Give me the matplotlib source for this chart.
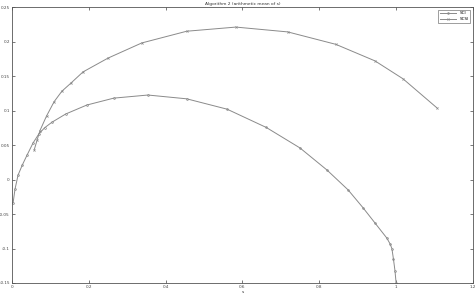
import matplotlib.pyplot as plt
import numpy as np

# lower curve (SCI)
sci_x = [0.003, 0.008, 0.016, 0.027, 0.039, 0.055, 0.07, 0.085, 0.104, 0.14, 0.195, 0.265, 0.354,
         0.455, 0.56, 0.662, 0.75, 0.82, 0.875, 0.914, 0.945, 0.976, 0.984, 0.989, 0.993, 0.997, 1.0]
sci_y = [-0.034, -0.014, 0.0065, 0.021, 0.035, 0.053, 0.066, 0.075, 0.083, 0.095, 0.108, 0.118,
         0.1225, 0.117, 0.102, 0.0755, 0.0457, 0.0138, -0.015, -0.041, -0.063, -0.085, -0.093,
         -0.1, -0.115, -0.132, -0.15]

# upper curve (SCSI)
scsi_x = [0.058, 0.066, 0.073, 0.09, 0.11, 0.13, 0.154, 0.185, 0.25, 0.338, 0.455, 0.583,
          0.718, 0.843, 0.945, 1.018, 1.106]
scsi_y = [0.043, 0.058, 0.071, 0.092, 0.113, 0.128, 0.14, 0.156, 0.176, 0.198, 0.215, 0.221,
          0.214, 0.196, 0.172, 0.146, 0.104]

xticks = [0, 0.2, 0.4, 0.6, 0.8, 1, 1.2]
xtick_labels = ["0", "0.2", "0.4", "0.6", "0.8", "1", "1.2"]
yticks = [-0.15, -0.1, -0.05, 0, 0.05, 0.1, 0.15, 0.2, 0.25]
ytick_labels = ["-0.15", "-0.1", "-0.05", "0", "0.05", "0.1", "0.15", "0.2", "0.25"]

fig = plt.figure(figsize=(4.77, 2.95), dpi=100)
ax = fig.add_axes([0.025, 0.0407, 0.9665, 0.9353])

gray = "#8a8a8a"
ax.plot(sci_x, sci_y, color=gray, linewidth=0.7, marker="o", markersize=1.3,
        markerfacecolor="none", markeredgewidth=0.5, label="SCI")
ax.plot(scsi_x, scsi_y, color=gray, linewidth=0.7, marker="x", markersize=1.5,
        markeredgewidth=0.5, label="SCSI")

ax.set_xlim(0, 1.2)
ax.set_ylim(-0.15, 0.25)
ax.set_xticks(xticks)
ax.set_xticklabels(xtick_labels)
ax.set_yticks(yticks)
ax.set_yticklabels(ytick_labels)
ax.tick_params(direction="in", length=2.5, width=0.5, labelsize=3, pad=1.5,
               top=True, right=True, colors="#444444")
for s in ax.spines.values():
    s.set_linewidth(0.6)
    s.set_color("#555555")

ax.set_title("Algorithm 2 (arithmetic mean of s)", fontsize=3.2, pad=1.5, color="#333333")
ax.set_xlabel("s", fontsize=3.2, labelpad=0.5, color="#333333")

leg = ax.legend(loc="upper right", fontsize=3, frameon=True, fancybox=False,
                edgecolor="#555555", handlelength=4, borderpad=0.4, labelspacing=0.5,
                borderaxespad=0.6)
leg.get_frame().set_linewidth(0.5)

fig.savefig("out.png", dpi=100)
